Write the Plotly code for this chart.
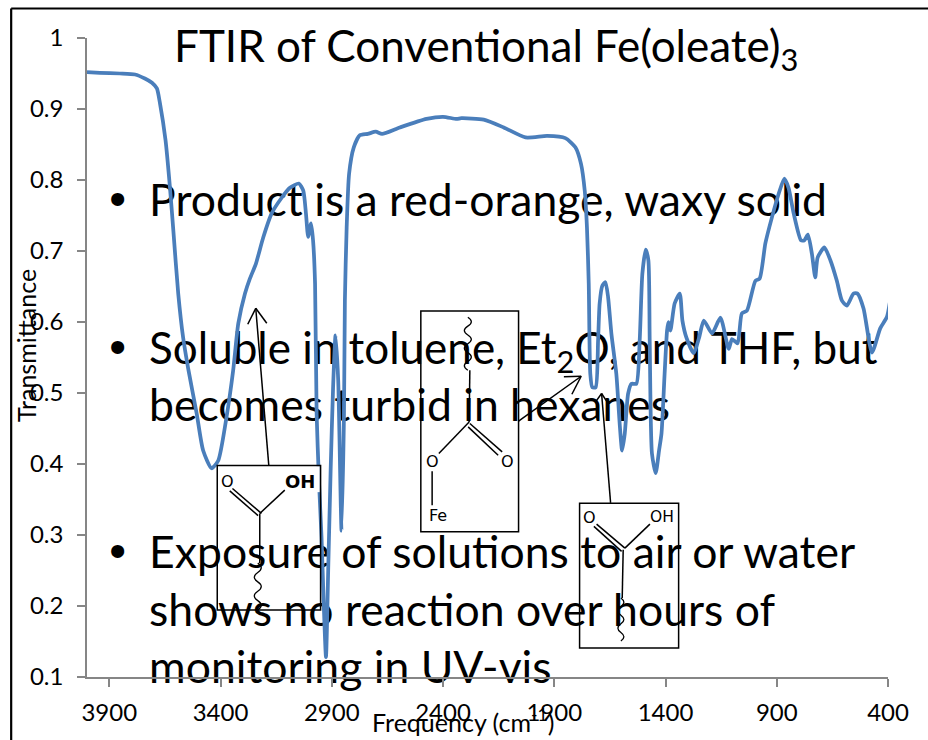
import plotly.graph_objects as go

wavenumber = [4000,3942,3852,3784,3740,3708,3686,3672,3647,3627,3612,3590,3568,3545,3507,3478,3440,3410,3373,3343,3320,3290,3268,3241,3208,3170,3125,3088,3048,3028,3016,3006,2993,2984,2975,2968,2957,2946,2936,2926,2916,2905,2894,2883,2871,2856,2845,2841,2833,2822,2801,2774,2738,2702,2674,2594,2474,2400,2339,2317,2217,2127,2029,1932,1850,1805,1780,1763,1753,1745,1738,1729,1714,1703,1696,1684,1670,1658,1643,1621,1606,1595,1583,1568,1553,1531,1516,1504,1489,1477,1471,1461,1444,1429,1418,1404,1393,1387,1378,1359,1336,1324,1306,1273,1249,1228,1191,1153,1116,1101,1076,1057,1034,996,977,951,922,891,866,847,824,791,776,760,742,727,716,686,659,630,607,585,555,537,510,472,435,405,392]
transmittance = [.952,.951,.950,.9486,.943,.937,.929,.908,.856,.789,.729,.640,.578,.534,.471,.419,.394,.405,.466,.532,.598,.640,.661,.682,.719,.753,.775,.789,.795,.785,.753,.720,.739,.715,.654,.471,.373,.297,.203,.128,.25,.391,.508,.581,.518,.306,.471,.630,.733,.809,.846,.863,.865,.868,.865,.874,.886,.889,.886,.887,.885,.874,.860,.862,.859,.846,.823,.785,.733,.654,.527,.508,.508,.574,.626,.651,.656,.635,.583,.527,.457,.419,.443,.499,.513,.513,.574,.668,.702,.687,.574,.415,.387,.419,.443,.527,.588,.600,.588,.626,.640,.602,.578,.556,.578,.602,.584,.606,.562,.576,.57,.612,.616,.658,.661,.711,.747,.781,.802,.789,.753,.715,.715,.723,.696,.663,.691,.705,.687,.658,.630,.623,.640,.640,.619,.557,.591,.607,.627]

x_ticks = [3900,3400,2900,2400,1900,1400,900,400]
y_ticks = [0.1,0.2,0.3,0.4,0.5,0.6,0.7,0.8,0.9,1]
title_text = "FTIR of Conventional Fe(oleate)<sub>3</sub>"
x_title = "Frequency (cm<sup>-1</sup>)"
y_title = "Transmittance"
slide_lines = [
    "Product is a red-orange, waxy solid",
    "Soluble in toluene, Et<sub>2</sub>O, and THF, but",
    "becomes turbid in hexanes",
    "Exposure of solutions to air or water",
    "shows no reaction over hours of",
    "monitoring in UV-vis",
]
line_y = [.7654,.5569,.4766,.2696,.1879,.1076]
line_size = [44.5,44,44.5,44.5,44.5,44.5]
bullet_y = [.7678,.5593,.2720]

W, H = 928, 740
L, R, T, B = 87.3, 888.0, 37.5, 677.0
BOTTOM_MARGIN = 62.5
BLUE = "#4A7EBB"
GREY = "#868686"
FONT = "Lato"

def px(x): return (x - L) / (R - L)
def py(y): return (B - y) / (B - T)

shapes, notes = [], []

def seg(x0, y0, x1, y1, w=1.5):
    shapes.append(dict(type="line", xref="paper", yref="paper", layer="above",
                       x0=px(x0), y0=py(y0), x1=px(x1), y1=py(y1),
                       line=dict(color="black", width=w)))

def box(x0, y0, x1, y1):
    shapes.append(dict(type="rect", xref="paper", yref="paper", layer="above",
                       x0=px(x0), y0=py(y0), x1=px(x1), y1=py(y1),
                       line=dict(color="black", width=1.5), fillcolor="rgba(0,0,0,0)"))

def wave(x0, y0, y1, n, amp=3.5):
    step = (y1 - y0) / n
    d = f"M {px(x0)} {py(y0)}"
    s = 1
    for i in range(n):
        ya = y0 + step * (i + .5)
        yb = y0 + step * (i + 1)
        d += f" Q {px(x0 + s * amp * 2)} {py(ya)} {px(x0)} {py(yb)}"
        s = -s
    shapes.append(dict(type="path", xref="paper", yref="paper", layer="above", path=d,
                       line=dict(color="black", width=1.3)))

def label(x, y, text, size=14, bold=False):
    notes.append(dict(xref="paper", yref="paper", x=px(x), y=py(y), text=f"<b>{text}</b>" if bold else text,
                      showarrow=False, xanchor="center", yanchor="middle",
                      font=dict(family="DejaVu Sans", size=size, color="black")))

# white patch: the first structure's box hides the line inside it
shapes.append(dict(type="rect", xref="paper", yref="paper", layer="above",
                   x0=px(314), y0=py(466), x1=px(320), y1=py(492),
                   line=dict(width=0), fillcolor="white"))

# structure 1
box(217.5, 465.3, 320.8, 610)
seg(232.7, 488.3, 261.7, 513.3); seg(230, 490.7, 258.3, 515.5); seg(260, 513.3, 285, 490)
seg(260, 513.3, 260, 563); wave(258, 563, 610, 5)
label(227.3, 481.7, "O", 16); label(300, 481.7, "OH", 18, True)
# structure 2
box(421, 310.7, 518.7, 531.7)
wave(468, 317, 370, 6); seg(470, 370, 469.3, 421.7)
seg(469.3, 421.7, 439, 453.3); seg(470, 423.3, 502.3, 451.7); seg(468.3, 426.7, 498.3, 455); seg(432.3, 471, 432.3, 505)
label(432.3, 461.7, "O", 16); label(507.3, 461.7, "O", 16); label(437.7, 515, "Fe", 16)
# structure 3
box(579.7, 503, 678.7, 648)
seg(596.7, 524, 625, 548); seg(594, 526.3, 621.7, 551.3); seg(625, 548, 650, 524); seg(623.3, 549.7, 622.3, 598)
wave(621, 598, 641, 5, 3)
label(590, 517.3, "O", 16); label(662.3, 517.3, "OH", 15.5)
# arrows
seg(269, 465, 256, 308); seg(256, 308, 248, 324); seg(256, 308, 267, 323)
seg(518.7, 421, 581.3, 376); seg(581.3, 376, 564, 376.5); seg(581.3, 376, 572, 394)
seg(610.7, 502.7, 601.7, 393.3); seg(601.7, 393.3, 595.7, 401.7); seg(601.7, 393.3, 608, 403)
# slide border
seg(11.5, 8, 11.5, 740, 2.2); seg(11.5, 8, 928, 8, 2.2)

notes.append(dict(xref="paper", yref="paper", x=px(172), y=py(48), text=title_text, showarrow=False,
                  xanchor="left", yanchor="middle", font=dict(family=FONT, size=44, color="black")))
notes.append(dict(xref="paper", yref="paper", x=px(463), y=py(721), text=x_title, showarrow=False,
                  xanchor="center", yanchor="middle", font=dict(family=FONT, size=25, color="black")))
notes.append(dict(xref="paper", yref="paper", x=px(27), y=py(345), text=y_title, showarrow=False, textangle=-90,
                  xanchor="center", yanchor="middle", font=dict(family=FONT, size=25, color="black")))

fig = go.Figure()
fig.add_trace(go.Scatter(x=[3721] * len(slide_lines), y=line_y, text=slide_lines, mode="text",
                         textposition="middle right", cliponaxis=False, hoverinfo="skip",
                         textfont=dict(family=FONT, size=line_size, color="black")))
fig.add_trace(go.Scatter(x=[3862] * len(bullet_y), y=bullet_y, text=["•"] * len(bullet_y), mode="text",
                         textposition="middle center", cliponaxis=False, hoverinfo="skip",
                         textfont=dict(family="Liberation Sans", size=48, color="black")))
fig.add_trace(go.Scatter(x=wavenumber, y=transmittance, mode="lines", cliponaxis=False, hoverinfo="skip",
                         line=dict(color=BLUE, width=3.75, shape="spline", smoothing=0.6)))

axis = dict(showgrid=False, zeroline=False, showline=True, linecolor=GREY, linewidth=1.5,
            ticks="outside", ticklen=8, tickcolor=GREY, tickwidth=1.5,
            tickfont=dict(family=FONT, size=24, color="black"))
fig.update_layout(width=W, height=H, autosize=False, showlegend=False,
                  margin=dict(l=L, r=W - R, t=T, b=BOTTOM_MARGIN, pad=0),
                  paper_bgcolor="white", plot_bgcolor="white",
                  xaxis=dict(axis, range=[4000, 400], tickvals=x_ticks, ticktext=[str(v) for v in x_ticks], ticklabelstandoff=5),
                  yaxis=dict(axis, range=[0.1, 1], tickvals=y_ticks, ticktext=[f"{v:g}" for v in y_ticks], ticklabelstandoff=9),
                  shapes=shapes, annotations=notes)
fig.write_html("out.html", config=dict(displayModeBar=False),
               post_script="document.body.style.margin='0';document.body.style.overflow='hidden';")
